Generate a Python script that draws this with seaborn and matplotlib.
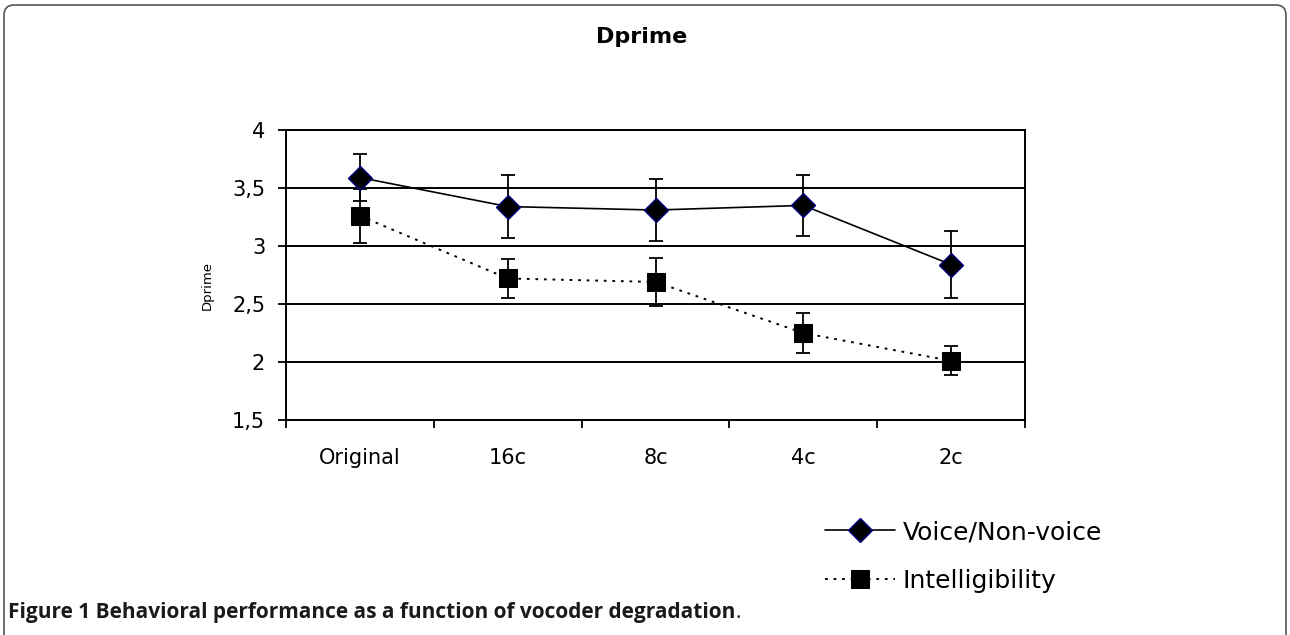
import numpy as np
import pandas as pd
import seaborn as sns
import matplotlib.pyplot as plt
from matplotlib.patches import FancyBboxPatch
from matplotlib.transforms import IdentityTransform

# values
categories = ['Original', '16c', '8c', '4c', '2c']
series_names = ['Voice/Non-voice', 'Intelligibility']
voice = [3.59, 3.34, 3.31, 3.35, 2.84]
voice_err = [0.20, 0.27, 0.27, 0.26, 0.29]
intel = [3.26, 2.72, 2.69, 2.25, 2.01]
intel_err = [0.23, 0.17, 0.21, 0.17, 0.125]
yticks = [1.5, 2, 2.5, 3, 3.5, 4]
ytick_labels = ['1,5', '2', '2,5', '3', '3,5', '4']

W, H = 1290, 635

sns.set_style('white')
plt.rcParams['font.family'] = ['DejaVu Sans']
plt.rcParams['text.color'] = 'black'
plt.rcParams['xtick.color'] = 'black'
plt.rcParams['ytick.color'] = 'black'

pos = np.arange(len(categories))
df = pd.DataFrame({
    'pos': np.tile(pos, 2),
    'dprime': voice + intel,
    'series': np.repeat(series_names, len(categories)),
})

fig = plt.figure(figsize=(W / 100, H / 100), dpi=100)
ax = fig.add_axes([286 / W, 1 - 420 / H, (1025 - 286) / W, (420 - 130) / H])

sns.lineplot(data=df, x='pos', y='dprime', hue='series', style='series',
             palette=['black', 'black'],
             markers={'Voice/Non-voice': 'D', 'Intelligibility': 's'},
             dashes={'Voice/Non-voice': '', 'Intelligibility': (1.4, 3.0)},
             legend=False, ax=ax, zorder=3, linewidth=1.2)

voice_line, intel_line = ax.lines[0], ax.lines[1]
voice_line.set_markersize(12.5)
voice_line.set_markerfacecolor('black')
voice_line.set_markeredgecolor('#000080')
voice_line.set_markeredgewidth(1.0)
intel_line.set_markersize(13)
intel_line.set_markerfacecolor('black')
intel_line.set_markeredgecolor('black')
intel_line.set_linewidth(1.4)

ax.errorbar(pos, voice, yerr=voice_err, fmt='none', ecolor='black',
            elinewidth=1.3, capsize=5, capthick=1.3, zorder=2)
ax.errorbar(pos, intel, yerr=intel_err, fmt='none', ecolor='black',
            elinewidth=1.3, capsize=5, capthick=1.3, zorder=2)

ax.set_xlim(-0.5, len(categories) - 0.5)
ax.set_ylim(1.5, 4)
ax.set_yticks(yticks)
ax.set_yticklabels(ytick_labels)
ax.set_xticks(pos)
ax.set_xticklabels(categories)
ax.set_xticks(np.arange(-0.5, len(categories), 1), minor=True)
ax.tick_params(axis='x', which='major', length=0, pad=20, labelsize=15)
ax.tick_params(axis='x', which='minor', length=6, width=1.3, direction='out',
               color='black', bottom=True)
ax.tick_params(axis='y', length=6, width=1.3, direction='out', pad=9,
               labelsize=15, color='black', left=True)
ax.set_xlabel('')
ax.set_ylabel('')
ax.yaxis.grid(True, color='black', linewidth=1.4)
ax.set_axisbelow(True)
for sp in ax.spines.values():
    sp.set_color('black')
    sp.set_linewidth(1.4)

fig.text(642 / W, 1 - 37 / H, 'Dprime', ha='center', va='center',
         fontsize=16, fontweight='bold')
fig.text(207 / W, 1 - 286 / H, 'Dprime', ha='center', va='center',
         rotation=90, fontsize=9.5)

fig.legend(handles=[voice_line, intel_line], labels=series_names,
           loc='upper left', bbox_to_anchor=(825 / W, 1 - 520 / H),
           frameon=False, fontsize=18, handlelength=2.8, handletextpad=0.3,
           labelspacing=1.0, borderpad=0, borderaxespad=0)

cap = fig.text(8 / W, 1 - 618 / H,
               'Figure 1 Behavioral performance as a function of vocoder degradation',
               fontsize=15, fontweight='bold', family=['Open Sans', 'DejaVu Sans'],
               va='baseline', color='#1a1a1a')
fig.canvas.draw()
bb = cap.get_window_extent()
fig.text(bb.x1 / W, 1 - 618 / H, '.', fontsize=15, family=['Open Sans', 'DejaVu Sans'],
         va='baseline', color='#1a1a1a')

frame = FancyBboxPatch((4, -30), W - 8, H + 30 - 5,
                       boxstyle='round,pad=0,rounding_size=10',
                       transform=IdentityTransform(), facecolor='none',
                       edgecolor='#555555', linewidth=1.2)
fig.add_artist(frame)

fig.savefig('out.png', dpi=100)
